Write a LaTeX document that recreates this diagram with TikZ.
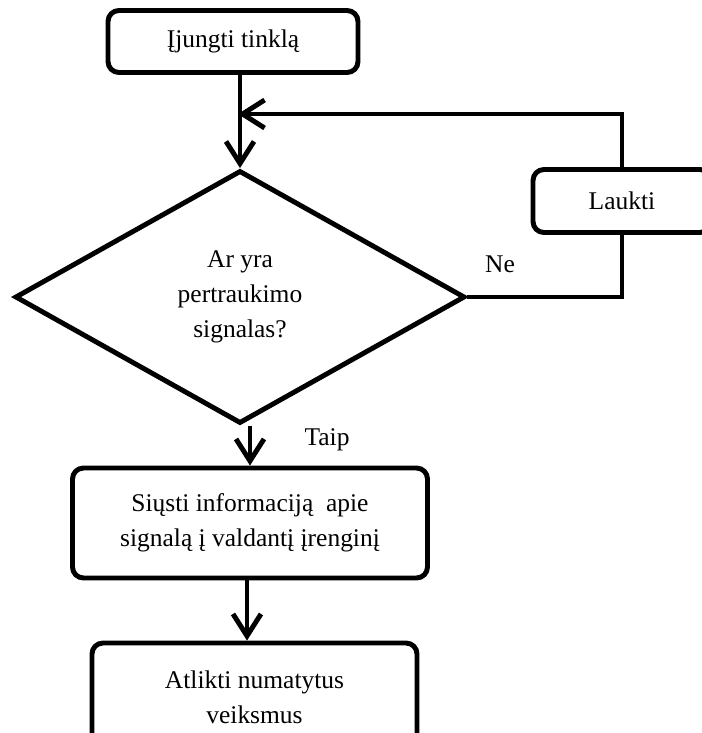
\documentclass[tikz,border=0pt]{standalone}
\usepackage{fontspec}
\setmainfont{Liberation Serif}
\usetikzlibrary{arrows.meta,positioning,shapes.geometric,calc}

\begin{document}
\begin{tikzpicture}[
    line width=2.8pt,
    font=\fontsize{14.5}{20}\selectfont,
    stepbox/.style={draw,rounded corners=0.22cm,align=center,inner sep=0pt},
    decision/.style={draw,diamond,align=center,inner sep=0pt,
      minimum width=9cm,minimum height=5.06cm},
    flow/.style={-{Straight Barb[length=4.4mm,width=5.6mm]}}]
  \clip (0,0) rectangle (14.04,-14.66);

  % Steps
  \node[stepbox,minimum width=5cm,minimum height=1.24cm] (start) at (4.66,-0.83) {Įjungti tinklą};
  \node[decision] (check) at (4.8,-5.94) {Ar yra\\pertraukimo\\signalas?};
  \node[stepbox,minimum width=3.56cm,minimum height=1.26cm] (wait) at (12.44,-4.02) {Laukti};
  \node[stepbox,minimum width=7.1cm,minimum height=2.2cm] (send) at (5.0,-10.46) {Siųsti informaciją\ \ apie\\signalą į valdantį įrenginį};
  \node[stepbox,minimum width=6.5cm,minimum height=2.16cm] (act) at (5.09,-13.94) {Atlikti numatytus\\veiksmus};
  \coordinate (join) at (4.76,-2.28);

  % Connectors
  \draw[flow] (start.south -| check.north) -- (check.north);
  \draw[flow] (wait.north) -- (wait.north |- join) -- (join);
  \draw (check.east) -- (check.east -| wait.south) -- (wait.south);
  \draw[flow] (send.north |- check.south) -- (send.north);
  \draw[flow] (send.south -| 4.94,0) -- (act.north -| 4.94,0);

  % Labels
  \node (no) at (10,-5.28) {Ne};
  \node (yes) at (6.54,-8.8) {Taip};
\end{tikzpicture}
\end{document}
